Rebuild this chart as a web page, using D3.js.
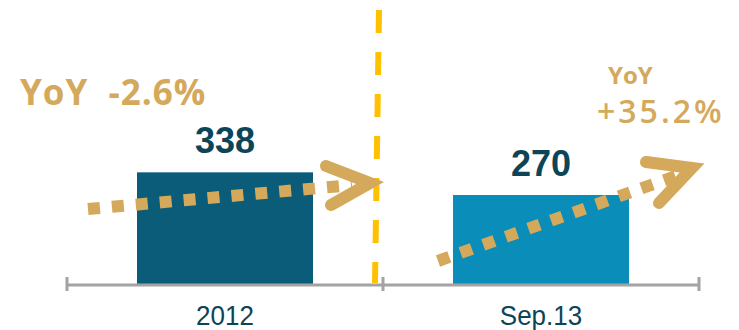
<!DOCTYPE html>
<html>
<head>
<meta charset="utf-8">
<script src="https://cdn.jsdelivr.net/npm/d3@7"></script>
<style>
  html, body { margin: 0; padding: 0; background: #ffffff; }
  svg { display: block; }
</style>
</head>
<body>
<svg id="chart" width="739" height="330"></svg>
<script>
// Period totals
const categories = ["2012", "Sep.13"];
const values = [338, 270];
const barColors = ["#0a5c78", "#0a8db8"];
// Year-on-year growth callouts
const yoyLabels = ["-2.6%", "+35.2%"];

const W = 739, H = 330;
const svg = d3.select("#chart");

const x = d3.scaleBand().domain(categories).range([67, 699]).padding(0);
const y = d3.scaleLinear().domain([0, 855]).range([285, 0]);
const barW = x.bandwidth() * 0.557;

const gold = "#d4a95b";
const navy = "#0c4458";

// Bars
svg.selectAll("rect.bar")
  .data(categories)
  .enter().append("rect")
  .attr("class", "bar")
  .attr("x", d => x(d) + (x.bandwidth() - barW) / 2)
  .attr("width", barW)
  .attr("y", (d, i) => y(values[i]))
  .attr("height", (d, i) => y(0) - y(values[i]))
  .attr("fill", (d, i) => barColors[i]);

// Value labels
svg.selectAll("text.val")
  .data(categories)
  .enter().append("text")
  .attr("class", "val")
  .attr("x", d => x(d) + x.bandwidth() / 2)
  .attr("y", (d, i) => y(values[i]) - 19)
  .attr("text-anchor", "middle")
  .attr("font-family", "'Liberation Sans', Arial, sans-serif")
  .attr("font-weight", "bold")
  .attr("font-size", 36)
  .attr("fill", navy)
  .text((d, i) => values[i]);

// Axis: baseline, boundary ticks and centred category labels
const axisG = svg.append("g").attr("transform", `translate(0,${y(0)})`);
axisG.append("line")
  .attr("x1", x.range()[0]).attr("x2", x.range()[1])
  .attr("stroke", "#a3a3a3").attr("stroke-width", 3);
const bounds = categories.map(d => x(d)).concat([x.range()[1]]);
axisG.selectAll("line.tick")
  .data(bounds)
  .enter().append("line")
  .attr("class", "tick")
  .attr("x1", d => d).attr("x2", d => d)
  .attr("y1", -8).attr("y2", 6)
  .attr("stroke", "#a3a3a3").attr("stroke-width", 3);
axisG.selectAll("text.cat")
  .data(categories)
  .enter().append("text")
  .attr("class", "cat")
  .attr("transform", d => `translate(${x(d) + x.bandwidth() / 2},40) scale(1,1.08)`)
  .attr("text-anchor", "middle")
  .attr("font-family", "'Liberation Sans', Arial, sans-serif")
  .attr("font-size", 26)
  .attr("fill", navy)
  .text(d => d);

// Dashed divider between the two periods
svg.append("line")
  .attr("x1", 379).attr("y1", 10)
  .attr("x2", 375).attr("y2", 283)
  .attr("stroke", "#ffc000")
  .attr("stroke-width", 6)
  .attr("stroke-dasharray", "23,19");

// Dotted trend arrows
function trendArrow(x0, y0, x1, y1, tip, armA, armB) {
  svg.append("line")
    .attr("x1", x0).attr("y1", y0).attr("x2", x1).attr("y2", y1)
    .attr("stroke", gold).attr("stroke-width", 12)
    .attr("stroke-dasharray", "12,12");
  svg.append("path")
    .attr("d", d3.line()([armA, tip, armB]))
    .attr("fill", "none")
    .attr("stroke", gold).attr("stroke-width", 12)
    .attr("stroke-linecap", "round").attr("stroke-linejoin", "miter");
}
trendArrow(88, 209, 352, 185, [370, 183], [326, 166], [331, 205]);
trendArrow(438, 261, 676, 176, [692, 168], [646, 162], [659, 203]);

// YoY callouts
svg.append("text")
  .attr("x", 20).attr("y", 105)
  .attr("font-family", "'Open Sans', sans-serif")
  .attr("font-weight", "bold")
  .attr("font-size", 35)
  .attr("letter-spacing", 1)
  .attr("fill", gold)
  .attr("xml:space", "preserve")
  .text("YoY  " + yoyLabels[0]);

svg.append("text")
  .attr("x", 608).attr("y", 84)
  .attr("font-family", "'Open Sans', sans-serif")
  .attr("font-weight", "bold")
  .attr("font-size", 24)
  .attr("fill", gold)
  .text("YoY");

svg.append("text")
  .attr("x", 597).attr("y", 123)
  .attr("font-family", "'Open Sans', sans-serif")
  .attr("font-weight", 600)
  .attr("font-size", 32)
  .attr("letter-spacing", 3)
  .attr("fill", gold)
  .text(yoyLabels[1]);
</script>
</body>
</html>
